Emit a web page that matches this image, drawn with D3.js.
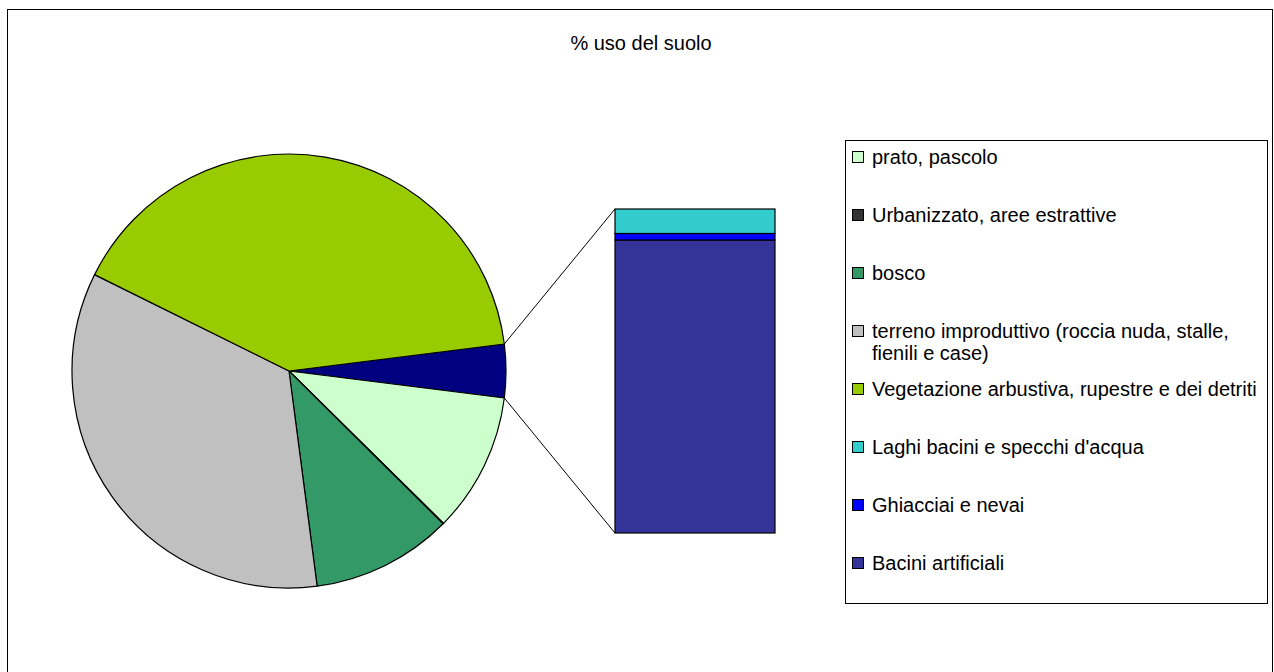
<!DOCTYPE html>
<html>
<head>
<meta charset="utf-8">
<script src="https://cdn.jsdelivr.net/npm/d3@7"></script>
<style>
  body { margin: 0; background: #fff; }
  svg { display: block; font-family: "Liberation Sans", Arial, sans-serif; }
</style>
</head>
<body>
<svg id="chart" width="1274" height="672"></svg>
<script>
// % land use
const mainCats = ["prato, pascolo", "Urbanizzato, aree estrattive", "bosco",
  "terreno improduttivo (roccia nuda, stalle, fienili e case)",
  "Vegetazione arbustiva, rupestre e dei detriti"];
const mainVals = [10.4, 0.05, 10.5, 34.4, 40.7];
const mainColors = ["#CCFFCC", "#333333", "#339966", "#C0C0C0", "#99CC00"];

const subCats = ["Laghi bacini e specchi d'acqua", "Ghiacciai e nevai", "Bacini artificiali"];
const subVals = [0.30, 0.08, 3.59];
const subColors = ["#33CCCC", "#0000FF", "#333399"];
const otherColor = "#000080";

const legendLines = [
  ["prato, pascolo"],
  ["Urbanizzato, aree estrattive"],
  ["bosco"],
  ["terreno improduttivo (roccia nuda, stalle,", "fienili e case)"],
  ["Vegetazione arbustiva, rupestre e dei detriti"],
  ["Laghi bacini e specchi d'acqua"],
  ["Ghiacciai e nevai"],
  ["Bacini artificiali"]
];

const svg = d3.select("#chart");

// outer frame
svg.append("rect")
  .attr("x", 7.5).attr("y", 9.5)
  .attr("width", 1265).attr("height", 670)
  .attr("fill", "#fff").attr("stroke", "#000").attr("stroke-width", 1);

svg.append("text")
  .attr("x", 641).attr("y", 50)
  .attr("text-anchor", "middle")
  .attr("font-size", 20)
  .text("% uso del suolo");

// pie: "other" slice first, centred at 3 o'clock
const otherTotal = d3.sum(subVals);
const pieData = [{ name: "other", value: otherTotal, color: otherColor }]
  .concat(mainCats.map((c, i) => ({ name: c, value: mainVals[i], color: mainColors[i] })));

const total = d3.sum(pieData, d => d.value);
const otherAngle = otherTotal / total * 2 * Math.PI;
const start = Math.PI / 2 - otherAngle / 2;

const pie = d3.pie().sort(null).value(d => d.value)
  .startAngle(start).endAngle(start + 2 * Math.PI);

const cx = 289, cy = 371, r = 217;
const arc = d3.arc().innerRadius(0).outerRadius(r);

const g = svg.append("g").attr("transform", `translate(${cx},${cy})`);
const arcs = pie(pieData);
g.selectAll("path")
  .data(arcs)
  .join("path")
  .attr("d", arc)
  .attr("fill", d => d.data.color)
  .attr("stroke", "#000")
  .attr("stroke-width", 1.2)
  .attr("stroke-linejoin", "round");

// secondary stacked bar
const barX = 615, barW = 160;
const y = d3.scaleLinear().domain([0, otherTotal]).range([533, 209]);
const stackOrder = [2, 1, 0]; // bacini at bottom, laghi on top
let acc = 0;
const barData = stackOrder.map(i => {
  const d = { y0: acc, y1: acc + subVals[i], color: subColors[i] };
  acc += subVals[i];
  return d;
});
svg.append("g").selectAll("rect")
  .data(barData)
  .join("rect")
  .attr("x", barX)
  .attr("y", d => y(d.y1))
  .attr("width", barW)
  .attr("height", d => y(d.y0) - y(d.y1))
  .attr("fill", d => d.color)
  .attr("stroke", "#000")
  .attr("stroke-width", 1.2);

// connector lines
const oa = arcs[0];
const p0 = d3.pointRadial(oa.startAngle, r);
const p1 = d3.pointRadial(oa.endAngle, r);
svg.append("line")
  .attr("x1", cx + p0[0]).attr("y1", cy + p0[1])
  .attr("x2", barX).attr("y2", y(otherTotal))
  .attr("stroke", "#000").attr("stroke-width", 1);
svg.append("line")
  .attr("x1", cx + p1[0]).attr("y1", cy + p1[1])
  .attr("x2", barX).attr("y2", y(0))
  .attr("stroke", "#000").attr("stroke-width", 1);

// legend
const legColors = mainColors.concat(subColors);
svg.append("rect")
  .attr("x", 845.5).attr("y", 140.5)
  .attr("width", 422).attr("height", 463)
  .attr("fill", "#fff").attr("stroke", "#000").attr("stroke-width", 1);

const legY = d3.scalePoint().domain(d3.range(8)).range([157, 563]);
const items = svg.append("g").selectAll("g")
  .data(legendLines)
  .join("g")
  .attr("transform", (d, i) => `translate(0,${legY(i)})`);
items.append("rect")
  .attr("x", 852.5).attr("y", -5.5)
  .attr("width", 11).attr("height", 11)
  .attr("fill", (d, i) => legColors[i])
  .attr("stroke", "#000").attr("stroke-width", 1);
items.append("text")
  .attr("x", 872)
  .attr("font-size", 20)
  .selectAll("tspan")
  .data(d => d)
  .join("tspan")
  .attr("x", 872)
  .attr("y", (d, j) => 7 + j * 22)
  .text(d => d);
</script>
</body>
</html>
